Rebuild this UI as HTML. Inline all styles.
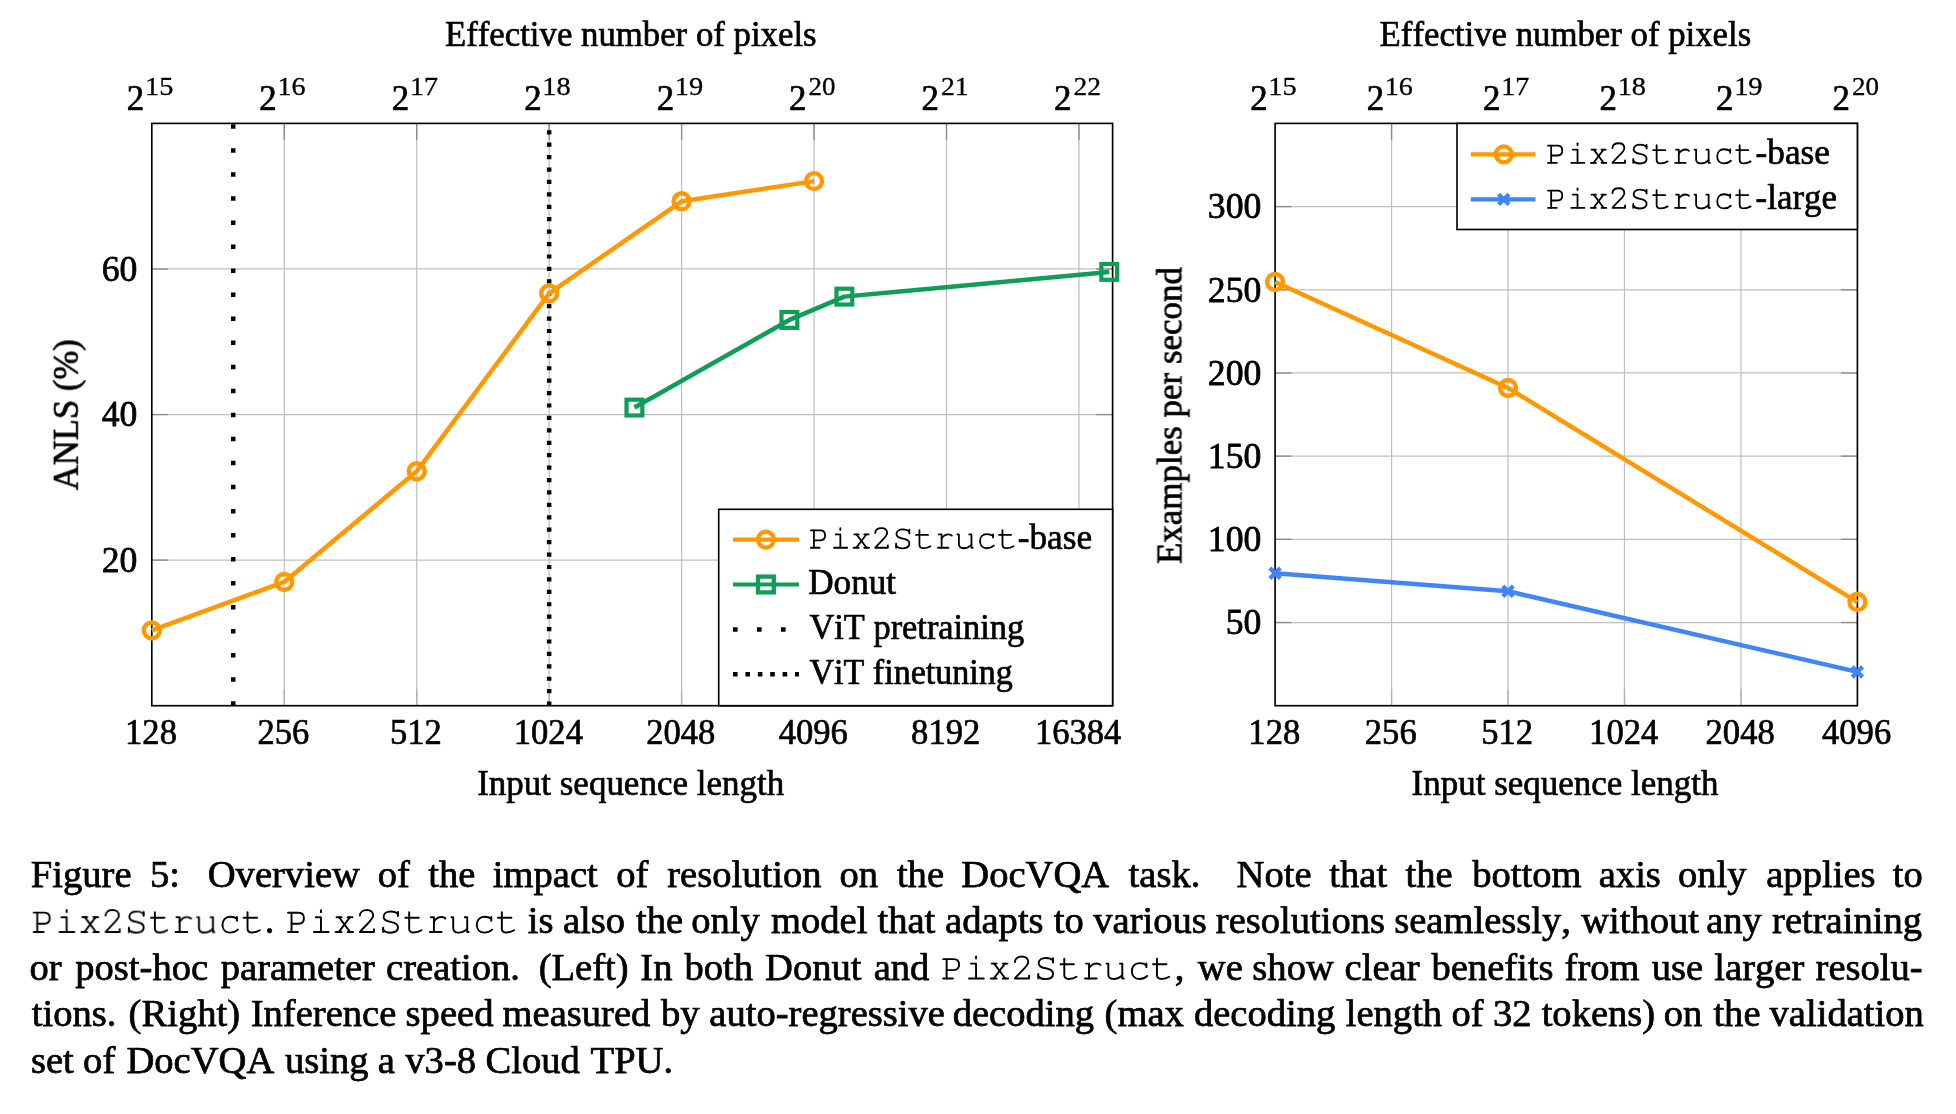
<!DOCTYPE html>
<html><head><meta charset="utf-8"><style>
html,body{margin:0;padding:0;background:#fff;}
body{width:1956px;height:1114px;position:relative;overflow:hidden;}
.ln{position:absolute;left:31.5px;width:1891px;font-family:"Liberation Serif",serif;font-size:38.6px;line-height:46px;height:46px;white-space:nowrap;text-align:justify;text-align-last:justify;color:#000;}
.ln.last{text-align:left;text-align-last:left;}
.m{font-family:"Liberation Mono",monospace;}
</style></head><body>
<svg width="1956" height="1114" viewBox="0 0 1956 1114" style="position:absolute;left:0;top:0;will-change:transform">
<rect width="1956" height="1114" fill="#fff"/><g opacity="0.999">
<line x1="284.25" y1="123.4" x2="284.25" y2="705.7" stroke="#bfbfbf" stroke-width="1.25"/>
<line x1="416.70" y1="123.4" x2="416.70" y2="705.7" stroke="#bfbfbf" stroke-width="1.25"/>
<line x1="549.15" y1="123.4" x2="549.15" y2="705.7" stroke="#bfbfbf" stroke-width="1.25"/>
<line x1="681.60" y1="123.4" x2="681.60" y2="705.7" stroke="#bfbfbf" stroke-width="1.25"/>
<line x1="814.05" y1="123.4" x2="814.05" y2="705.7" stroke="#bfbfbf" stroke-width="1.25"/>
<line x1="946.50" y1="123.4" x2="946.50" y2="705.7" stroke="#bfbfbf" stroke-width="1.25"/>
<line x1="1078.95" y1="123.4" x2="1078.95" y2="705.7" stroke="#bfbfbf" stroke-width="1.25"/>
<line x1="151.8" y1="560.12" x2="1112.6" y2="560.12" stroke="#bfbfbf" stroke-width="1.25"/>
<line x1="151.8" y1="414.55" x2="1112.6" y2="414.55" stroke="#bfbfbf" stroke-width="1.25"/>
<line x1="151.8" y1="268.97" x2="1112.6" y2="268.97" stroke="#bfbfbf" stroke-width="1.25"/>
<line x1="284.25" y1="123.4" x2="284.25" y2="139.8" stroke="#8a8a8a" stroke-width="1.35"/>
<line x1="284.25" y1="689.3000000000001" x2="284.25" y2="705.7" stroke="#b0b0b0" stroke-width="1.3"/>
<line x1="416.70" y1="123.4" x2="416.70" y2="139.8" stroke="#8a8a8a" stroke-width="1.35"/>
<line x1="416.70" y1="689.3000000000001" x2="416.70" y2="705.7" stroke="#b0b0b0" stroke-width="1.3"/>
<line x1="549.15" y1="123.4" x2="549.15" y2="139.8" stroke="#8a8a8a" stroke-width="1.35"/>
<line x1="549.15" y1="689.3000000000001" x2="549.15" y2="705.7" stroke="#b0b0b0" stroke-width="1.3"/>
<line x1="681.60" y1="123.4" x2="681.60" y2="139.8" stroke="#8a8a8a" stroke-width="1.35"/>
<line x1="681.60" y1="689.3000000000001" x2="681.60" y2="705.7" stroke="#b0b0b0" stroke-width="1.3"/>
<line x1="814.05" y1="123.4" x2="814.05" y2="139.8" stroke="#8a8a8a" stroke-width="1.35"/>
<line x1="814.05" y1="689.3000000000001" x2="814.05" y2="705.7" stroke="#b0b0b0" stroke-width="1.3"/>
<line x1="946.50" y1="123.4" x2="946.50" y2="139.8" stroke="#8a8a8a" stroke-width="1.35"/>
<line x1="946.50" y1="689.3000000000001" x2="946.50" y2="705.7" stroke="#b0b0b0" stroke-width="1.3"/>
<line x1="1078.95" y1="123.4" x2="1078.95" y2="139.8" stroke="#8a8a8a" stroke-width="1.35"/>
<line x1="1078.95" y1="689.3000000000001" x2="1078.95" y2="705.7" stroke="#b0b0b0" stroke-width="1.3"/>
<line x1="151.8" y1="560.12" x2="168.20000000000002" y2="560.12" stroke="#8a8a8a" stroke-width="1.35"/>
<line x1="1096.1999999999998" y1="560.12" x2="1112.6" y2="560.12" stroke="#8a8a8a" stroke-width="1.35"/>
<line x1="151.8" y1="414.55" x2="168.20000000000002" y2="414.55" stroke="#8a8a8a" stroke-width="1.35"/>
<line x1="1096.1999999999998" y1="414.55" x2="1112.6" y2="414.55" stroke="#8a8a8a" stroke-width="1.35"/>
<line x1="151.8" y1="268.97" x2="168.20000000000002" y2="268.97" stroke="#8a8a8a" stroke-width="1.35"/>
<line x1="1096.1999999999998" y1="268.97" x2="1112.6" y2="268.97" stroke="#8a8a8a" stroke-width="1.35"/>
<rect x="151.8" y="123.4" width="960.80" height="582.30" fill="none" stroke="#000" stroke-width="1.65"/>
<line x1="233.22" y1="705.7" x2="233.22" y2="123.4" stroke="#000" stroke-width="4.5" stroke-dasharray="4.5 19.54"/>
<line x1="549.15" y1="705.7" x2="549.15" y2="123.4" stroke="#000" stroke-width="4.5" stroke-dasharray="4.2 8.22"/>
<path d="M151.80,630.36 L284.25,581.96 L416.70,471.32 L549.15,293.36 L681.60,201.28 L814.05,181.12" fill="none" stroke="#FF9800" stroke-width="4.5" stroke-linejoin="round"/>
<circle cx="151.80" cy="630.36" r="8.0" fill="none" stroke="#FF9800" stroke-width="4.4"/>
<circle cx="284.25" cy="581.96" r="8.0" fill="none" stroke="#FF9800" stroke-width="4.4"/>
<circle cx="416.70" cy="471.32" r="8.0" fill="none" stroke="#FF9800" stroke-width="4.4"/>
<circle cx="549.15" cy="293.36" r="8.0" fill="none" stroke="#FF9800" stroke-width="4.4"/>
<circle cx="681.60" cy="201.28" r="8.0" fill="none" stroke="#FF9800" stroke-width="4.4"/>
<circle cx="814.05" cy="181.12" r="8.0" fill="none" stroke="#FF9800" stroke-width="4.4"/>
<path d="M634.43,407.56 L789.39,319.93 L844.36,296.63 L1109.26,271.89" fill="none" stroke="#0F9D58" stroke-width="4.5" stroke-linejoin="round"/>
<rect x="626.53" y="399.66" width="15.8" height="15.8" fill="none" stroke="#0F9D58" stroke-width="4.2"/>
<rect x="781.49" y="312.03" width="15.8" height="15.8" fill="none" stroke="#0F9D58" stroke-width="4.2"/>
<rect x="836.46" y="288.73" width="15.8" height="15.8" fill="none" stroke="#0F9D58" stroke-width="4.2"/>
<rect x="1101.36" y="263.99" width="15.8" height="15.8" fill="none" stroke="#0F9D58" stroke-width="4.2"/>
<rect x="718.7" y="509.3" width="393.90" height="196.40" fill="#fff" stroke="#000" stroke-width="1.65"/>
<line x1="733" y1="539.6" x2="799" y2="539.6" stroke="#FF9800" stroke-width="4.2"/>
<circle cx="765.90" cy="539.60" r="8.0" fill="none" stroke="#FF9800" stroke-width="4.3"/>
<line x1="733" y1="584.5" x2="799" y2="584.5" stroke="#0F9D58" stroke-width="4.2"/>
<rect x="758.00" y="576.60" width="15.8" height="15.8" fill="none" stroke="#0F9D58" stroke-width="4.3"/>
<line x1="733" y1="629.5" x2="799" y2="629.5" stroke="#000" stroke-width="4.6" stroke-dasharray="4.6 19.4"/>
<line x1="733" y1="674.2" x2="799" y2="674.2" stroke="#000" stroke-width="4.6" stroke-dasharray="4.6 7.8"/>
<g transform="translate(809.20,548.60) scale(0.03460,-0.03460)" fill="none" stroke="#000" stroke-width="52" stroke-linecap="round" stroke-linejoin="round"><path transform="translate(0,0)" d="M47,526 L322,526 C410,526 459,472 459,384 C459,296 410,240 322,240 L138,240"/><path transform="translate(0,0)" d="M138,526 L138,24"/><path transform="translate(0,0)" d="M47,24 L301,24"/><path transform="translate(600,0)" d="M165,409 L300,409 L300,24"/><path transform="translate(600,0)" d="M117,24 L499,24"/><path transform="translate(600,0)" d="M300,540 L300,592"/><path transform="translate(1200,0)" d="M105,409 L232,409"/><path transform="translate(1200,0)" d="M392,409 L516,409"/><path transform="translate(1200,0)" d="M82,24 L232,24"/><path transform="translate(1200,0)" d="M392,24 L532,24"/><path transform="translate(1200,0)" d="M170,409 L458,24"/><path transform="translate(1200,0)" d="M450,409 L160,24"/><path transform="translate(1800,0)" d="M108,452 C112,548 196,594 290,594 C388,594 452,536 452,452 C452,352 350,300 110,30 L110,24 L474,24 L474,96"/><path transform="translate(2400,0)" d="M494,548 L494,440"/><path transform="translate(2400,0)" d="M494,488 C458,532 392,556 306,556 C196,556 122,500 122,420 C122,330 208,304 304,288 C424,268 496,232 496,146 C496,60 420,8 300,8 C206,8 146,36 112,84"/><path transform="translate(2400,0)" d="M112,24 L112,140"/><path transform="translate(3000,0)" d="M186,536 L186,112 C186,46 230,12 306,12 C388,12 450,36 504,70"/><path transform="translate(3000,0)" d="M86,394 L434,394"/><path transform="translate(3600,0)" d="M148,409 L227,409 L227,24"/><path transform="translate(3600,0)" d="M122,24 L424,24"/><path transform="translate(3600,0)" d="M227,292 C282,382 350,413 424,413 C470,413 502,398 522,376"/><path transform="translate(4200,0)" d="M81,409 L127,409 L127,132 C127,52 180,10 262,10 C350,10 430,48 489,108"/><path transform="translate(4200,0)" d="M426,409 L489,409 L489,24 L526,24"/><path transform="translate(4800,0)" d="M512,413 L512,318"/><path transform="translate(4800,0)" d="M512,368 C470,404 402,421 330,421 C212,421 137,332 137,214 C137,88 222,10 334,10 C414,10 482,40 534,88"/><path transform="translate(5400,0)" d="M186,536 L186,112 C186,46 230,12 306,12 C388,12 450,36 504,70"/><path transform="translate(5400,0)" d="M86,394 L434,394"/></g>
<text transform="translate(1017.79,548.80) scale(1.0182,1.0650)" font-size="34.6" fill="#000" stroke="#000" stroke-width="0.657" stroke-linejoin="round" style='font-family:"Liberation Serif",serif;font-kerning:none'>-base</text>
<text transform="translate(808.19,593.70) scale(1.0164,1.0650)" font-size="34.6" fill="#000" stroke="#000" stroke-width="0.657" stroke-linejoin="round" style='font-family:"Liberation Serif",serif;font-kerning:none'>Donut</text>
<text transform="translate(809.51,639.00) scale(0.9933,1.0650)" font-size="34.6" fill="#000" stroke="#000" stroke-width="0.657" stroke-linejoin="round" style='font-family:"Liberation Serif",serif;font-kerning:none'>ViT pretraining</text>
<text transform="translate(809.52,684.00) scale(0.9842,1.0650)" font-size="34.6" fill="#000" stroke="#000" stroke-width="0.657" stroke-linejoin="round" style='font-family:"Liberation Serif",serif;font-kerning:none'>ViT finetuning</text>
<text transform="translate(444.95,46.20) scale(1.0051,1.0650)" font-size="34.6" fill="#000" stroke="#000" stroke-width="0.657" stroke-linejoin="round" style='font-family:"Liberation Serif",serif;font-kerning:none'>Effective number of pixels</text>
<text transform="translate(477.14,794.90) scale(1.0116,1.0650)" font-size="34.6" fill="#000" stroke="#000" stroke-width="0.657" stroke-linejoin="round" style='font-family:"Liberation Serif",serif;font-kerning:none'>Input sequence length</text>
<text transform="translate(77.9,490.34) rotate(-90) scale(1.0019,1.065)" font-size="34.6" stroke="#000" stroke-width="0.7" stroke-linejoin="round" style='font-family:"Liberation Serif",serif;font-kerning:none'>ANLS (%)</text>
<text transform="translate(125.05,744.00) scale(1.0000,1.0650)" font-size="34.6" fill="#000" stroke="#000" stroke-width="0.657" stroke-linejoin="round" style='font-family:"Liberation Serif",serif;font-kerning:none'>128</text>
<text transform="translate(257.50,744.00) scale(1.0000,1.0650)" font-size="34.6" fill="#000" stroke="#000" stroke-width="0.657" stroke-linejoin="round" style='font-family:"Liberation Serif",serif;font-kerning:none'>256</text>
<text transform="translate(389.95,744.00) scale(1.0000,1.0650)" font-size="34.6" fill="#000" stroke="#000" stroke-width="0.657" stroke-linejoin="round" style='font-family:"Liberation Serif",serif;font-kerning:none'>512</text>
<text transform="translate(513.75,744.00) scale(1.0000,1.0650)" font-size="34.6" fill="#000" stroke="#000" stroke-width="0.657" stroke-linejoin="round" style='font-family:"Liberation Serif",serif;font-kerning:none'>1024</text>
<text transform="translate(646.20,744.00) scale(1.0000,1.0650)" font-size="34.6" fill="#000" stroke="#000" stroke-width="0.657" stroke-linejoin="round" style='font-family:"Liberation Serif",serif;font-kerning:none'>2048</text>
<text transform="translate(778.65,744.00) scale(1.0000,1.0650)" font-size="34.6" fill="#000" stroke="#000" stroke-width="0.657" stroke-linejoin="round" style='font-family:"Liberation Serif",serif;font-kerning:none'>4096</text>
<text transform="translate(911.10,744.00) scale(1.0000,1.0650)" font-size="34.6" fill="#000" stroke="#000" stroke-width="0.657" stroke-linejoin="round" style='font-family:"Liberation Serif",serif;font-kerning:none'>8192</text>
<text transform="translate(1034.90,744.00) scale(1.0000,1.0650)" font-size="34.6" fill="#000" stroke="#000" stroke-width="0.657" stroke-linejoin="round" style='font-family:"Liberation Serif",serif;font-kerning:none'>16384</text>
<text transform="translate(126.87,110.00) scale(0.9800,1.0000)" font-size="35.6" fill="#000" stroke="#000" stroke-width="0.750" stroke-linejoin="round" style='font-family:"Liberation Serif",serif;font-kerning:none'>2</text>
<text transform="translate(145.00,95.20) scale(1.1272,1.0000)" font-size="25.2" fill="#000" stroke="#000" stroke-width="0.310" stroke-linejoin="round" style='font-family:"Liberation Serif",serif;font-kerning:none'>15</text>
<text transform="translate(259.32,110.00) scale(0.9800,1.0000)" font-size="35.6" fill="#000" stroke="#000" stroke-width="0.750" stroke-linejoin="round" style='font-family:"Liberation Serif",serif;font-kerning:none'>2</text>
<text transform="translate(277.48,95.20) scale(1.1154,1.0000)" font-size="25.2" fill="#000" stroke="#000" stroke-width="0.314" stroke-linejoin="round" style='font-family:"Liberation Serif",serif;font-kerning:none'>16</text>
<text transform="translate(391.77,110.00) scale(0.9800,1.0000)" font-size="35.6" fill="#000" stroke="#000" stroke-width="0.750" stroke-linejoin="round" style='font-family:"Liberation Serif",serif;font-kerning:none'>2</text>
<text transform="translate(409.93,95.20) scale(1.1141,1.0000)" font-size="25.2" fill="#000" stroke="#000" stroke-width="0.314" stroke-linejoin="round" style='font-family:"Liberation Serif",serif;font-kerning:none'>17</text>
<text transform="translate(524.22,110.00) scale(0.9800,1.0000)" font-size="35.6" fill="#000" stroke="#000" stroke-width="0.750" stroke-linejoin="round" style='font-family:"Liberation Serif",serif;font-kerning:none'>2</text>
<text transform="translate(542.36,95.20) scale(1.1260,1.0000)" font-size="25.2" fill="#000" stroke="#000" stroke-width="0.311" stroke-linejoin="round" style='font-family:"Liberation Serif",serif;font-kerning:none'>18</text>
<text transform="translate(656.67,110.00) scale(0.9800,1.0000)" font-size="35.6" fill="#000" stroke="#000" stroke-width="0.750" stroke-linejoin="round" style='font-family:"Liberation Serif",serif;font-kerning:none'>2</text>
<text transform="translate(674.80,95.20) scale(1.1298,1.0000)" font-size="25.2" fill="#000" stroke="#000" stroke-width="0.310" stroke-linejoin="round" style='font-family:"Liberation Serif",serif;font-kerning:none'>19</text>
<text transform="translate(789.12,110.00) scale(0.9800,1.0000)" font-size="35.6" fill="#000" stroke="#000" stroke-width="0.750" stroke-linejoin="round" style='font-family:"Liberation Serif",serif;font-kerning:none'>2</text>
<text transform="translate(808.56,95.20) scale(1.0721,1.0000)" font-size="25.2" fill="#000" stroke="#000" stroke-width="0.326" stroke-linejoin="round" style='font-family:"Liberation Serif",serif;font-kerning:none'>20</text>
<text transform="translate(921.57,110.00) scale(0.9800,1.0000)" font-size="35.6" fill="#000" stroke="#000" stroke-width="0.750" stroke-linejoin="round" style='font-family:"Liberation Serif",serif;font-kerning:none'>2</text>
<text transform="translate(940.98,95.20) scale(1.0984,1.0000)" font-size="25.2" fill="#000" stroke="#000" stroke-width="0.319" stroke-linejoin="round" style='font-family:"Liberation Serif",serif;font-kerning:none'>21</text>
<text transform="translate(1054.02,110.00) scale(0.9800,1.0000)" font-size="35.6" fill="#000" stroke="#000" stroke-width="0.750" stroke-linejoin="round" style='font-family:"Liberation Serif",serif;font-kerning:none'>2</text>
<text transform="translate(1073.44,95.20) scale(1.0924,1.0000)" font-size="25.2" fill="#000" stroke="#000" stroke-width="0.320" stroke-linejoin="round" style='font-family:"Liberation Serif",serif;font-kerning:none'>22</text>
<text transform="translate(101.77,572.02) scale(0.9750,1.0000)" font-size="36.6" fill="#000" stroke="#000" stroke-width="0.750" stroke-linejoin="round" style='font-family:"Liberation Serif",serif;font-kerning:none'>20</text>
<text transform="translate(101.77,426.45) scale(0.9750,1.0000)" font-size="36.6" fill="#000" stroke="#000" stroke-width="0.750" stroke-linejoin="round" style='font-family:"Liberation Serif",serif;font-kerning:none'>40</text>
<text transform="translate(101.77,280.87) scale(0.9750,1.0000)" font-size="36.6" fill="#000" stroke="#000" stroke-width="0.750" stroke-linejoin="round" style='font-family:"Liberation Serif",serif;font-kerning:none'>60</text>
<line x1="1391.56" y1="123.4" x2="1391.56" y2="705.7" stroke="#bfbfbf" stroke-width="1.25"/>
<line x1="1508.02" y1="123.4" x2="1508.02" y2="705.7" stroke="#bfbfbf" stroke-width="1.25"/>
<line x1="1624.48" y1="123.4" x2="1624.48" y2="705.7" stroke="#bfbfbf" stroke-width="1.25"/>
<line x1="1740.94" y1="123.4" x2="1740.94" y2="705.7" stroke="#bfbfbf" stroke-width="1.25"/>
<line x1="1275.1" y1="622.51" x2="1857.4" y2="622.51" stroke="#bfbfbf" stroke-width="1.25"/>
<line x1="1275.1" y1="539.33" x2="1857.4" y2="539.33" stroke="#bfbfbf" stroke-width="1.25"/>
<line x1="1275.1" y1="456.14" x2="1857.4" y2="456.14" stroke="#bfbfbf" stroke-width="1.25"/>
<line x1="1275.1" y1="372.96" x2="1857.4" y2="372.96" stroke="#bfbfbf" stroke-width="1.25"/>
<line x1="1275.1" y1="289.77" x2="1857.4" y2="289.77" stroke="#bfbfbf" stroke-width="1.25"/>
<line x1="1275.1" y1="206.59" x2="1857.4" y2="206.59" stroke="#bfbfbf" stroke-width="1.25"/>
<line x1="1391.56" y1="123.4" x2="1391.56" y2="139.8" stroke="#8a8a8a" stroke-width="1.35"/>
<line x1="1391.56" y1="689.3000000000001" x2="1391.56" y2="705.7" stroke="#b0b0b0" stroke-width="1.3"/>
<line x1="1508.02" y1="123.4" x2="1508.02" y2="139.8" stroke="#8a8a8a" stroke-width="1.35"/>
<line x1="1508.02" y1="689.3000000000001" x2="1508.02" y2="705.7" stroke="#b0b0b0" stroke-width="1.3"/>
<line x1="1624.48" y1="123.4" x2="1624.48" y2="139.8" stroke="#8a8a8a" stroke-width="1.35"/>
<line x1="1624.48" y1="689.3000000000001" x2="1624.48" y2="705.7" stroke="#b0b0b0" stroke-width="1.3"/>
<line x1="1740.94" y1="123.4" x2="1740.94" y2="139.8" stroke="#8a8a8a" stroke-width="1.35"/>
<line x1="1740.94" y1="689.3000000000001" x2="1740.94" y2="705.7" stroke="#b0b0b0" stroke-width="1.3"/>
<line x1="1275.1" y1="622.51" x2="1291.5" y2="622.51" stroke="#8a8a8a" stroke-width="1.35"/>
<line x1="1841.0" y1="622.51" x2="1857.4" y2="622.51" stroke="#8a8a8a" stroke-width="1.35"/>
<line x1="1275.1" y1="539.33" x2="1291.5" y2="539.33" stroke="#8a8a8a" stroke-width="1.35"/>
<line x1="1841.0" y1="539.33" x2="1857.4" y2="539.33" stroke="#8a8a8a" stroke-width="1.35"/>
<line x1="1275.1" y1="456.14" x2="1291.5" y2="456.14" stroke="#8a8a8a" stroke-width="1.35"/>
<line x1="1841.0" y1="456.14" x2="1857.4" y2="456.14" stroke="#8a8a8a" stroke-width="1.35"/>
<line x1="1275.1" y1="372.96" x2="1291.5" y2="372.96" stroke="#8a8a8a" stroke-width="1.35"/>
<line x1="1841.0" y1="372.96" x2="1857.4" y2="372.96" stroke="#8a8a8a" stroke-width="1.35"/>
<line x1="1275.1" y1="289.77" x2="1291.5" y2="289.77" stroke="#8a8a8a" stroke-width="1.35"/>
<line x1="1841.0" y1="289.77" x2="1857.4" y2="289.77" stroke="#8a8a8a" stroke-width="1.35"/>
<line x1="1275.1" y1="206.59" x2="1291.5" y2="206.59" stroke="#8a8a8a" stroke-width="1.35"/>
<line x1="1841.0" y1="206.59" x2="1857.4" y2="206.59" stroke="#8a8a8a" stroke-width="1.35"/>
<rect x="1275.1" y="123.4" width="582.30" height="582.30" fill="none" stroke="#000" stroke-width="1.65"/>
<path d="M1275.10,281.95 L1508.02,387.93 L1857.40,602.05" fill="none" stroke="#FF9800" stroke-width="4.5" stroke-linejoin="round"/>
<circle cx="1275.10" cy="281.95" r="8.0" fill="none" stroke="#FF9800" stroke-width="4.4"/>
<circle cx="1508.02" cy="387.93" r="8.0" fill="none" stroke="#FF9800" stroke-width="4.4"/>
<circle cx="1857.40" cy="602.05" r="8.0" fill="none" stroke="#FF9800" stroke-width="4.4"/>
<path d="M1275.10,573.27 L1508.02,591.24 L1857.40,671.93" fill="none" stroke="#4285F4" stroke-width="4.5" stroke-linejoin="round"/>
<path d="M1269.90,568.07L1280.30,578.47M1269.90,578.47L1280.30,568.07" stroke="#4285F4" stroke-width="4.3" fill="none"/>
<path d="M1502.82,586.04L1513.22,596.44M1502.82,596.44L1513.22,586.04" stroke="#4285F4" stroke-width="4.3" fill="none"/>
<path d="M1852.20,666.73L1862.60,677.13M1852.20,677.13L1862.60,666.73" stroke="#4285F4" stroke-width="4.3" fill="none"/>
<rect x="1457" y="123.4" width="400.40" height="106.10" fill="#fff" stroke="#000" stroke-width="1.65"/>
<line x1="1470.8" y1="154.4" x2="1535.5" y2="154.4" stroke="#FF9800" stroke-width="4.2"/>
<circle cx="1503.80" cy="154.40" r="8.0" fill="none" stroke="#FF9800" stroke-width="4.3"/>
<line x1="1470.8" y1="199.4" x2="1535.5" y2="199.4" stroke="#4285F4" stroke-width="4.2"/>
<path d="M1498.60,194.20L1509.00,204.60M1498.60,204.60L1509.00,194.20" stroke="#4285F4" stroke-width="4.3" fill="none"/>
<g transform="translate(1546.40,163.80) scale(0.03460,-0.03460)" fill="none" stroke="#000" stroke-width="52" stroke-linecap="round" stroke-linejoin="round"><path transform="translate(0,0)" d="M47,526 L322,526 C410,526 459,472 459,384 C459,296 410,240 322,240 L138,240"/><path transform="translate(0,0)" d="M138,526 L138,24"/><path transform="translate(0,0)" d="M47,24 L301,24"/><path transform="translate(600,0)" d="M165,409 L300,409 L300,24"/><path transform="translate(600,0)" d="M117,24 L499,24"/><path transform="translate(600,0)" d="M300,540 L300,592"/><path transform="translate(1200,0)" d="M105,409 L232,409"/><path transform="translate(1200,0)" d="M392,409 L516,409"/><path transform="translate(1200,0)" d="M82,24 L232,24"/><path transform="translate(1200,0)" d="M392,24 L532,24"/><path transform="translate(1200,0)" d="M170,409 L458,24"/><path transform="translate(1200,0)" d="M450,409 L160,24"/><path transform="translate(1800,0)" d="M108,452 C112,548 196,594 290,594 C388,594 452,536 452,452 C452,352 350,300 110,30 L110,24 L474,24 L474,96"/><path transform="translate(2400,0)" d="M494,548 L494,440"/><path transform="translate(2400,0)" d="M494,488 C458,532 392,556 306,556 C196,556 122,500 122,420 C122,330 208,304 304,288 C424,268 496,232 496,146 C496,60 420,8 300,8 C206,8 146,36 112,84"/><path transform="translate(2400,0)" d="M112,24 L112,140"/><path transform="translate(3000,0)" d="M186,536 L186,112 C186,46 230,12 306,12 C388,12 450,36 504,70"/><path transform="translate(3000,0)" d="M86,394 L434,394"/><path transform="translate(3600,0)" d="M148,409 L227,409 L227,24"/><path transform="translate(3600,0)" d="M122,24 L424,24"/><path transform="translate(3600,0)" d="M227,292 C282,382 350,413 424,413 C470,413 502,398 522,376"/><path transform="translate(4200,0)" d="M81,409 L127,409 L127,132 C127,52 180,10 262,10 C350,10 430,48 489,108"/><path transform="translate(4200,0)" d="M426,409 L489,409 L489,24 L526,24"/><path transform="translate(4800,0)" d="M512,413 L512,318"/><path transform="translate(4800,0)" d="M512,368 C470,404 402,421 330,421 C212,421 137,332 137,214 C137,88 222,10 334,10 C414,10 482,40 534,88"/><path transform="translate(5400,0)" d="M186,536 L186,112 C186,46 230,12 306,12 C388,12 450,36 504,70"/><path transform="translate(5400,0)" d="M86,394 L434,394"/></g>
<text transform="translate(1755.59,163.80) scale(1.0182,1.0650)" font-size="34.6" fill="#000" stroke="#000" stroke-width="0.657" stroke-linejoin="round" style='font-family:"Liberation Serif",serif;font-kerning:none'>-base</text>
<g transform="translate(1546.40,208.80) scale(0.03460,-0.03460)" fill="none" stroke="#000" stroke-width="52" stroke-linecap="round" stroke-linejoin="round"><path transform="translate(0,0)" d="M47,526 L322,526 C410,526 459,472 459,384 C459,296 410,240 322,240 L138,240"/><path transform="translate(0,0)" d="M138,526 L138,24"/><path transform="translate(0,0)" d="M47,24 L301,24"/><path transform="translate(600,0)" d="M165,409 L300,409 L300,24"/><path transform="translate(600,0)" d="M117,24 L499,24"/><path transform="translate(600,0)" d="M300,540 L300,592"/><path transform="translate(1200,0)" d="M105,409 L232,409"/><path transform="translate(1200,0)" d="M392,409 L516,409"/><path transform="translate(1200,0)" d="M82,24 L232,24"/><path transform="translate(1200,0)" d="M392,24 L532,24"/><path transform="translate(1200,0)" d="M170,409 L458,24"/><path transform="translate(1200,0)" d="M450,409 L160,24"/><path transform="translate(1800,0)" d="M108,452 C112,548 196,594 290,594 C388,594 452,536 452,452 C452,352 350,300 110,30 L110,24 L474,24 L474,96"/><path transform="translate(2400,0)" d="M494,548 L494,440"/><path transform="translate(2400,0)" d="M494,488 C458,532 392,556 306,556 C196,556 122,500 122,420 C122,330 208,304 304,288 C424,268 496,232 496,146 C496,60 420,8 300,8 C206,8 146,36 112,84"/><path transform="translate(2400,0)" d="M112,24 L112,140"/><path transform="translate(3000,0)" d="M186,536 L186,112 C186,46 230,12 306,12 C388,12 450,36 504,70"/><path transform="translate(3000,0)" d="M86,394 L434,394"/><path transform="translate(3600,0)" d="M148,409 L227,409 L227,24"/><path transform="translate(3600,0)" d="M122,24 L424,24"/><path transform="translate(3600,0)" d="M227,292 C282,382 350,413 424,413 C470,413 502,398 522,376"/><path transform="translate(4200,0)" d="M81,409 L127,409 L127,132 C127,52 180,10 262,10 C350,10 430,48 489,108"/><path transform="translate(4200,0)" d="M426,409 L489,409 L489,24 L526,24"/><path transform="translate(4800,0)" d="M512,413 L512,318"/><path transform="translate(4800,0)" d="M512,368 C470,404 402,421 330,421 C212,421 137,332 137,214 C137,88 222,10 334,10 C414,10 482,40 534,88"/><path transform="translate(5400,0)" d="M186,536 L186,112 C186,46 230,12 306,12 C388,12 450,36 504,70"/><path transform="translate(5400,0)" d="M86,394 L434,394"/></g>
<text transform="translate(1755.60,208.80) scale(1.0091,1.0650)" font-size="34.6" fill="#000" stroke="#000" stroke-width="0.657" stroke-linejoin="round" style='font-family:"Liberation Serif",serif;font-kerning:none'>-large</text>
<text transform="translate(1379.60,46.20) scale(1.0051,1.0650)" font-size="34.6" fill="#000" stroke="#000" stroke-width="0.657" stroke-linejoin="round" style='font-family:"Liberation Serif",serif;font-kerning:none'>Effective number of pixels</text>
<text transform="translate(1411.54,794.60) scale(1.0116,1.0650)" font-size="34.6" fill="#000" stroke="#000" stroke-width="0.657" stroke-linejoin="round" style='font-family:"Liberation Serif",serif;font-kerning:none'>Input sequence length</text>
<text transform="translate(1181.6,564.01) rotate(-90) scale(1.0107,1.065)" font-size="34.6" stroke="#000" stroke-width="0.7" stroke-linejoin="round" style='font-family:"Liberation Serif",serif;font-kerning:none'>Examples per second</text>
<text transform="translate(1248.35,744.00) scale(1.0000,1.0650)" font-size="34.6" fill="#000" stroke="#000" stroke-width="0.657" stroke-linejoin="round" style='font-family:"Liberation Serif",serif;font-kerning:none'>128</text>
<text transform="translate(1364.81,744.00) scale(1.0000,1.0650)" font-size="34.6" fill="#000" stroke="#000" stroke-width="0.657" stroke-linejoin="round" style='font-family:"Liberation Serif",serif;font-kerning:none'>256</text>
<text transform="translate(1481.27,744.00) scale(1.0000,1.0650)" font-size="34.6" fill="#000" stroke="#000" stroke-width="0.657" stroke-linejoin="round" style='font-family:"Liberation Serif",serif;font-kerning:none'>512</text>
<text transform="translate(1589.08,744.00) scale(1.0000,1.0650)" font-size="34.6" fill="#000" stroke="#000" stroke-width="0.657" stroke-linejoin="round" style='font-family:"Liberation Serif",serif;font-kerning:none'>1024</text>
<text transform="translate(1705.54,744.00) scale(1.0000,1.0650)" font-size="34.6" fill="#000" stroke="#000" stroke-width="0.657" stroke-linejoin="round" style='font-family:"Liberation Serif",serif;font-kerning:none'>2048</text>
<text transform="translate(1822.00,744.00) scale(1.0000,1.0650)" font-size="34.6" fill="#000" stroke="#000" stroke-width="0.657" stroke-linejoin="round" style='font-family:"Liberation Serif",serif;font-kerning:none'>4096</text>
<text transform="translate(1250.17,110.00) scale(0.9800,1.0000)" font-size="35.6" fill="#000" stroke="#000" stroke-width="0.750" stroke-linejoin="round" style='font-family:"Liberation Serif",serif;font-kerning:none'>2</text>
<text transform="translate(1268.30,95.20) scale(1.1272,1.0000)" font-size="25.2" fill="#000" stroke="#000" stroke-width="0.310" stroke-linejoin="round" style='font-family:"Liberation Serif",serif;font-kerning:none'>15</text>
<text transform="translate(1366.63,110.00) scale(0.9800,1.0000)" font-size="35.6" fill="#000" stroke="#000" stroke-width="0.750" stroke-linejoin="round" style='font-family:"Liberation Serif",serif;font-kerning:none'>2</text>
<text transform="translate(1384.79,95.20) scale(1.1154,1.0000)" font-size="25.2" fill="#000" stroke="#000" stroke-width="0.314" stroke-linejoin="round" style='font-family:"Liberation Serif",serif;font-kerning:none'>16</text>
<text transform="translate(1483.09,110.00) scale(0.9800,1.0000)" font-size="35.6" fill="#000" stroke="#000" stroke-width="0.750" stroke-linejoin="round" style='font-family:"Liberation Serif",serif;font-kerning:none'>2</text>
<text transform="translate(1501.25,95.20) scale(1.1141,1.0000)" font-size="25.2" fill="#000" stroke="#000" stroke-width="0.314" stroke-linejoin="round" style='font-family:"Liberation Serif",serif;font-kerning:none'>17</text>
<text transform="translate(1599.55,110.00) scale(0.9800,1.0000)" font-size="35.6" fill="#000" stroke="#000" stroke-width="0.750" stroke-linejoin="round" style='font-family:"Liberation Serif",serif;font-kerning:none'>2</text>
<text transform="translate(1617.69,95.20) scale(1.1260,1.0000)" font-size="25.2" fill="#000" stroke="#000" stroke-width="0.311" stroke-linejoin="round" style='font-family:"Liberation Serif",serif;font-kerning:none'>18</text>
<text transform="translate(1716.01,110.00) scale(0.9800,1.0000)" font-size="35.6" fill="#000" stroke="#000" stroke-width="0.750" stroke-linejoin="round" style='font-family:"Liberation Serif",serif;font-kerning:none'>2</text>
<text transform="translate(1734.14,95.20) scale(1.1298,1.0000)" font-size="25.2" fill="#000" stroke="#000" stroke-width="0.310" stroke-linejoin="round" style='font-family:"Liberation Serif",serif;font-kerning:none'>19</text>
<text transform="translate(1832.47,110.00) scale(0.9800,1.0000)" font-size="35.6" fill="#000" stroke="#000" stroke-width="0.750" stroke-linejoin="round" style='font-family:"Liberation Serif",serif;font-kerning:none'>2</text>
<text transform="translate(1851.91,95.20) scale(1.0721,1.0000)" font-size="25.2" fill="#000" stroke="#000" stroke-width="0.326" stroke-linejoin="round" style='font-family:"Liberation Serif",serif;font-kerning:none'>20</text>
<text transform="translate(1225.67,634.41) scale(0.9750,1.0000)" font-size="36.6" fill="#000" stroke="#000" stroke-width="0.750" stroke-linejoin="round" style='font-family:"Liberation Serif",serif;font-kerning:none'>50</text>
<text transform="translate(1207.83,551.23) scale(0.9750,1.0000)" font-size="36.6" fill="#000" stroke="#000" stroke-width="0.750" stroke-linejoin="round" style='font-family:"Liberation Serif",serif;font-kerning:none'>100</text>
<text transform="translate(1207.83,468.04) scale(0.9750,1.0000)" font-size="36.6" fill="#000" stroke="#000" stroke-width="0.750" stroke-linejoin="round" style='font-family:"Liberation Serif",serif;font-kerning:none'>150</text>
<text transform="translate(1207.83,384.86) scale(0.9750,1.0000)" font-size="36.6" fill="#000" stroke="#000" stroke-width="0.750" stroke-linejoin="round" style='font-family:"Liberation Serif",serif;font-kerning:none'>200</text>
<text transform="translate(1207.83,301.67) scale(0.9750,1.0000)" font-size="36.6" fill="#000" stroke="#000" stroke-width="0.750" stroke-linejoin="round" style='font-family:"Liberation Serif",serif;font-kerning:none'>250</text>
<text transform="translate(1207.83,218.49) scale(0.9750,1.0000)" font-size="36.6" fill="#000" stroke="#000" stroke-width="0.750" stroke-linejoin="round" style='font-family:"Liberation Serif",serif;font-kerning:none'>300</text>
</g></svg>
<svg width="1956" height="1114" style="position:absolute;left:0;top:0;will-change:transform"><g opacity="0.999"><text transform="translate(30.82,886.90) scale(1.0000,1.0000)" font-size="38.6" fill="#000" stroke="#000" stroke-width="0.750" stroke-linejoin="round" style='font-family:"Liberation Serif",serif;font-kerning:none'>Figure</text>
<text transform="translate(149.88,886.90) scale(1.0000,1.0000)" font-size="38.6" fill="#000" stroke="#000" stroke-width="0.750" stroke-linejoin="round" style='font-family:"Liberation Serif",serif;font-kerning:none'>5:</text>
<text transform="translate(207.75,886.90) scale(1.0000,1.0000)" font-size="38.6" fill="#000" stroke="#000" stroke-width="0.750" stroke-linejoin="round" style='font-family:"Liberation Serif",serif;font-kerning:none'>Overview</text>
<text transform="translate(377.69,886.90) scale(1.0000,1.0000)" font-size="38.6" fill="#000" stroke="#000" stroke-width="0.750" stroke-linejoin="round" style='font-family:"Liberation Serif",serif;font-kerning:none'>of</text>
<text transform="translate(428.25,886.90) scale(1.0000,1.0000)" font-size="38.6" fill="#000" stroke="#000" stroke-width="0.750" stroke-linejoin="round" style='font-family:"Liberation Serif",serif;font-kerning:none'>the</text>
<text transform="translate(492.84,886.90) scale(1.0000,1.0000)" font-size="38.6" fill="#000" stroke="#000" stroke-width="0.750" stroke-linejoin="round" style='font-family:"Liberation Serif",serif;font-kerning:none'>impact</text>
<text transform="translate(616.14,886.90) scale(1.0000,1.0000)" font-size="38.6" fill="#000" stroke="#000" stroke-width="0.750" stroke-linejoin="round" style='font-family:"Liberation Serif",serif;font-kerning:none'>of</text>
<text transform="translate(667.22,886.90) scale(1.0000,1.0000)" font-size="38.6" fill="#000" stroke="#000" stroke-width="0.750" stroke-linejoin="round" style='font-family:"Liberation Serif",serif;font-kerning:none'>resolution</text>
<text transform="translate(839.41,886.90) scale(1.0000,1.0000)" font-size="38.6" fill="#000" stroke="#000" stroke-width="0.750" stroke-linejoin="round" style='font-family:"Liberation Serif",serif;font-kerning:none'>on</text>
<text transform="translate(896.90,886.90) scale(1.0000,1.0000)" font-size="38.6" fill="#000" stroke="#000" stroke-width="0.750" stroke-linejoin="round" style='font-family:"Liberation Serif",serif;font-kerning:none'>the</text>
<text transform="translate(961.27,886.90) scale(1.0000,1.0000)" font-size="38.6" fill="#000" stroke="#000" stroke-width="0.750" stroke-linejoin="round" style='font-family:"Liberation Serif",serif;font-kerning:none'>DocVQA</text>
<text transform="translate(1128.62,886.90) scale(1.0000,1.0000)" font-size="38.6" fill="#000" stroke="#000" stroke-width="0.750" stroke-linejoin="round" style='font-family:"Liberation Serif",serif;font-kerning:none'>task.</text>
<text transform="translate(1236.55,886.90) scale(1.0000,1.0000)" font-size="38.6" fill="#000" stroke="#000" stroke-width="0.750" stroke-linejoin="round" style='font-family:"Liberation Serif",serif;font-kerning:none'>Note</text>
<text transform="translate(1329.28,886.90) scale(1.0000,1.0000)" font-size="38.6" fill="#000" stroke="#000" stroke-width="0.750" stroke-linejoin="round" style='font-family:"Liberation Serif",serif;font-kerning:none'>that</text>
<text transform="translate(1405.50,886.90) scale(1.0000,1.0000)" font-size="38.6" fill="#000" stroke="#000" stroke-width="0.750" stroke-linejoin="round" style='font-family:"Liberation Serif",serif;font-kerning:none'>the</text>
<text transform="translate(1472.17,886.90) scale(1.0000,1.0000)" font-size="38.6" fill="#000" stroke="#000" stroke-width="0.750" stroke-linejoin="round" style='font-family:"Liberation Serif",serif;font-kerning:none'>bottom</text>
<text transform="translate(1598.73,886.90) scale(1.0000,1.0000)" font-size="38.6" fill="#000" stroke="#000" stroke-width="0.750" stroke-linejoin="round" style='font-family:"Liberation Serif",serif;font-kerning:none'>axis</text>
<text transform="translate(1677.88,886.90) scale(1.0000,1.0000)" font-size="38.6" fill="#000" stroke="#000" stroke-width="0.750" stroke-linejoin="round" style='font-family:"Liberation Serif",serif;font-kerning:none'>only</text>
<text transform="translate(1766.25,886.90) scale(1.0000,1.0000)" font-size="38.6" fill="#000" stroke="#000" stroke-width="0.750" stroke-linejoin="round" style='font-family:"Liberation Serif",serif;font-kerning:none'>applies</text>
<text transform="translate(1892.73,886.90) scale(1.0000,1.0000)" font-size="38.6" fill="#000" stroke="#000" stroke-width="0.750" stroke-linejoin="round" style='font-family:"Liberation Serif",serif;font-kerning:none'>to</text>
<g transform="translate(31.91,933.00) scale(0.03860,-0.03860)" fill="none" stroke="#000" stroke-width="50" stroke-linecap="round" stroke-linejoin="round"><path transform="translate(0,0)" d="M47,526 L322,526 C410,526 459,472 459,384 C459,296 410,240 322,240 L138,240"/><path transform="translate(0,0)" d="M138,526 L138,24"/><path transform="translate(0,0)" d="M47,24 L301,24"/><path transform="translate(600,0)" d="M165,409 L300,409 L300,24"/><path transform="translate(600,0)" d="M117,24 L499,24"/><path transform="translate(600,0)" d="M300,540 L300,592"/><path transform="translate(1200,0)" d="M105,409 L232,409"/><path transform="translate(1200,0)" d="M392,409 L516,409"/><path transform="translate(1200,0)" d="M82,24 L232,24"/><path transform="translate(1200,0)" d="M392,24 L532,24"/><path transform="translate(1200,0)" d="M170,409 L458,24"/><path transform="translate(1200,0)" d="M450,409 L160,24"/><path transform="translate(1800,0)" d="M108,452 C112,548 196,594 290,594 C388,594 452,536 452,452 C452,352 350,300 110,30 L110,24 L474,24 L474,96"/><path transform="translate(2400,0)" d="M494,548 L494,440"/><path transform="translate(2400,0)" d="M494,488 C458,532 392,556 306,556 C196,556 122,500 122,420 C122,330 208,304 304,288 C424,268 496,232 496,146 C496,60 420,8 300,8 C206,8 146,36 112,84"/><path transform="translate(2400,0)" d="M112,24 L112,140"/><path transform="translate(3000,0)" d="M186,536 L186,112 C186,46 230,12 306,12 C388,12 450,36 504,70"/><path transform="translate(3000,0)" d="M86,394 L434,394"/><path transform="translate(3600,0)" d="M148,409 L227,409 L227,24"/><path transform="translate(3600,0)" d="M122,24 L424,24"/><path transform="translate(3600,0)" d="M227,292 C282,382 350,413 424,413 C470,413 502,398 522,376"/><path transform="translate(4200,0)" d="M81,409 L127,409 L127,132 C127,52 180,10 262,10 C350,10 430,48 489,108"/><path transform="translate(4200,0)" d="M426,409 L489,409 L489,24 L526,24"/><path transform="translate(4800,0)" d="M512,413 L512,318"/><path transform="translate(4800,0)" d="M512,368 C470,404 402,421 330,421 C212,421 137,332 137,214 C137,88 222,10 334,10 C414,10 482,40 534,88"/><path transform="translate(5400,0)" d="M186,536 L186,112 C186,46 230,12 306,12 C388,12 450,36 504,70"/><path transform="translate(5400,0)" d="M86,394 L434,394"/></g>
<text transform="translate(264.69,933.30) scale(1.0000,1.0000)" font-size="38.6" fill="#000" stroke="#000" stroke-width="0.750" stroke-linejoin="round" style='font-family:"Liberation Serif",serif;font-kerning:none'>.</text>
<g transform="translate(286.21,933.00) scale(0.03860,-0.03860)" fill="none" stroke="#000" stroke-width="50" stroke-linecap="round" stroke-linejoin="round"><path transform="translate(0,0)" d="M47,526 L322,526 C410,526 459,472 459,384 C459,296 410,240 322,240 L138,240"/><path transform="translate(0,0)" d="M138,526 L138,24"/><path transform="translate(0,0)" d="M47,24 L301,24"/><path transform="translate(600,0)" d="M165,409 L300,409 L300,24"/><path transform="translate(600,0)" d="M117,24 L499,24"/><path transform="translate(600,0)" d="M300,540 L300,592"/><path transform="translate(1200,0)" d="M105,409 L232,409"/><path transform="translate(1200,0)" d="M392,409 L516,409"/><path transform="translate(1200,0)" d="M82,24 L232,24"/><path transform="translate(1200,0)" d="M392,24 L532,24"/><path transform="translate(1200,0)" d="M170,409 L458,24"/><path transform="translate(1200,0)" d="M450,409 L160,24"/><path transform="translate(1800,0)" d="M108,452 C112,548 196,594 290,594 C388,594 452,536 452,452 C452,352 350,300 110,30 L110,24 L474,24 L474,96"/><path transform="translate(2400,0)" d="M494,548 L494,440"/><path transform="translate(2400,0)" d="M494,488 C458,532 392,556 306,556 C196,556 122,500 122,420 C122,330 208,304 304,288 C424,268 496,232 496,146 C496,60 420,8 300,8 C206,8 146,36 112,84"/><path transform="translate(2400,0)" d="M112,24 L112,140"/><path transform="translate(3000,0)" d="M186,536 L186,112 C186,46 230,12 306,12 C388,12 450,36 504,70"/><path transform="translate(3000,0)" d="M86,394 L434,394"/><path transform="translate(3600,0)" d="M148,409 L227,409 L227,24"/><path transform="translate(3600,0)" d="M122,24 L424,24"/><path transform="translate(3600,0)" d="M227,292 C282,382 350,413 424,413 C470,413 502,398 522,376"/><path transform="translate(4200,0)" d="M81,409 L127,409 L127,132 C127,52 180,10 262,10 C350,10 430,48 489,108"/><path transform="translate(4200,0)" d="M426,409 L489,409 L489,24 L526,24"/><path transform="translate(4800,0)" d="M512,413 L512,318"/><path transform="translate(4800,0)" d="M512,368 C470,404 402,421 330,421 C212,421 137,332 137,214 C137,88 222,10 334,10 C414,10 482,40 534,88"/><path transform="translate(5400,0)" d="M186,536 L186,112 C186,46 230,12 306,12 C388,12 450,36 504,70"/><path transform="translate(5400,0)" d="M86,394 L434,394"/></g>
<text transform="translate(527.67,933.30) scale(1.0000,1.0000)" font-size="38.6" fill="#000" stroke="#000" stroke-width="0.750" stroke-linejoin="round" style='font-family:"Liberation Serif",serif;font-kerning:none'>is</text>
<text transform="translate(562.92,933.30) scale(1.0000,1.0000)" font-size="38.6" fill="#000" stroke="#000" stroke-width="0.750" stroke-linejoin="round" style='font-family:"Liberation Serif",serif;font-kerning:none'>also</text>
<text transform="translate(636.05,933.30) scale(1.0000,1.0000)" font-size="38.6" fill="#000" stroke="#000" stroke-width="0.750" stroke-linejoin="round" style='font-family:"Liberation Serif",serif;font-kerning:none'>the</text>
<text transform="translate(691.28,933.30) scale(1.0000,1.0000)" font-size="38.6" fill="#000" stroke="#000" stroke-width="0.750" stroke-linejoin="round" style='font-family:"Liberation Serif",serif;font-kerning:none'>only</text>
<text transform="translate(770.99,933.30) scale(1.0000,1.0000)" font-size="38.6" fill="#000" stroke="#000" stroke-width="0.750" stroke-linejoin="round" style='font-family:"Liberation Serif",serif;font-kerning:none'>model</text>
<text transform="translate(877.43,933.30) scale(1.0000,1.0000)" font-size="38.6" fill="#000" stroke="#000" stroke-width="0.750" stroke-linejoin="round" style='font-family:"Liberation Serif",serif;font-kerning:none'>that</text>
<text transform="translate(945.06,933.30) scale(1.0000,1.0000)" font-size="38.6" fill="#000" stroke="#000" stroke-width="0.750" stroke-linejoin="round" style='font-family:"Liberation Serif",serif;font-kerning:none'>adapts</text>
<text transform="translate(1053.68,933.30) scale(1.0000,1.0000)" font-size="38.6" fill="#000" stroke="#000" stroke-width="0.750" stroke-linejoin="round" style='font-family:"Liberation Serif",serif;font-kerning:none'>to</text>
<text transform="translate(1093.28,933.30) scale(1.0000,1.0000)" font-size="38.6" fill="#000" stroke="#000" stroke-width="0.750" stroke-linejoin="round" style='font-family:"Liberation Serif",serif;font-kerning:none'>various</text>
<text transform="translate(1215.81,933.30) scale(1.0000,1.0000)" font-size="38.6" fill="#000" stroke="#000" stroke-width="0.750" stroke-linejoin="round" style='font-family:"Liberation Serif",serif;font-kerning:none'>resolutions</text>
<text transform="translate(1394.23,933.30) scale(1.0000,1.0000)" font-size="38.6" fill="#000" stroke="#000" stroke-width="0.750" stroke-linejoin="round" style='font-family:"Liberation Serif",serif;font-kerning:none'>seamlessly,</text>
<text transform="translate(1581.17,933.30) scale(1.0000,1.0000)" font-size="38.6" fill="#000" stroke="#000" stroke-width="0.750" stroke-linejoin="round" style='font-family:"Liberation Serif",serif;font-kerning:none'>without</text>
<text transform="translate(1706.13,933.30) scale(1.0000,1.0000)" font-size="38.6" fill="#000" stroke="#000" stroke-width="0.750" stroke-linejoin="round" style='font-family:"Liberation Serif",serif;font-kerning:none'>any</text>
<text transform="translate(1772.06,933.30) scale(1.0000,1.0000)" font-size="38.6" fill="#000" stroke="#000" stroke-width="0.750" stroke-linejoin="round" style='font-family:"Liberation Serif",serif;font-kerning:none'>retraining</text>
<text transform="translate(29.56,979.70) scale(1.0000,1.0000)" font-size="38.6" fill="#000" stroke="#000" stroke-width="0.750" stroke-linejoin="round" style='font-family:"Liberation Serif",serif;font-kerning:none'>or</text>
<text transform="translate(75.27,979.70) scale(1.0000,1.0000)" font-size="38.6" fill="#000" stroke="#000" stroke-width="0.750" stroke-linejoin="round" style='font-family:"Liberation Serif",serif;font-kerning:none'>post-hoc</text>
<text transform="translate(220.72,979.70) scale(1.0000,1.0000)" font-size="38.6" fill="#000" stroke="#000" stroke-width="0.750" stroke-linejoin="round" style='font-family:"Liberation Serif",serif;font-kerning:none'>parameter</text>
<text transform="translate(386.06,979.70) scale(1.0000,1.0000)" font-size="38.6" fill="#000" stroke="#000" stroke-width="0.750" stroke-linejoin="round" style='font-family:"Liberation Serif",serif;font-kerning:none'>creation.</text>
<text transform="translate(538.70,979.70) scale(1.0000,1.0000)" font-size="38.6" fill="#000" stroke="#000" stroke-width="0.750" stroke-linejoin="round" style='font-family:"Liberation Serif",serif;font-kerning:none'>(Left)</text>
<text transform="translate(640.37,979.70) scale(1.0000,1.0000)" font-size="38.6" fill="#000" stroke="#000" stroke-width="0.750" stroke-linejoin="round" style='font-family:"Liberation Serif",serif;font-kerning:none'>In</text>
<text transform="translate(684.49,979.70) scale(1.0000,1.0000)" font-size="38.6" fill="#000" stroke="#000" stroke-width="0.750" stroke-linejoin="round" style='font-family:"Liberation Serif",serif;font-kerning:none'>both</text>
<text transform="translate(765.06,979.70) scale(1.0000,1.0000)" font-size="38.6" fill="#000" stroke="#000" stroke-width="0.750" stroke-linejoin="round" style='font-family:"Liberation Serif",serif;font-kerning:none'>Donut</text>
<text transform="translate(873.69,979.70) scale(1.0000,1.0000)" font-size="38.6" fill="#000" stroke="#000" stroke-width="0.750" stroke-linejoin="round" style='font-family:"Liberation Serif",serif;font-kerning:none'>and</text>
<g transform="translate(941.31,979.40) scale(0.03860,-0.03860)" fill="none" stroke="#000" stroke-width="50" stroke-linecap="round" stroke-linejoin="round"><path transform="translate(0,0)" d="M47,526 L322,526 C410,526 459,472 459,384 C459,296 410,240 322,240 L138,240"/><path transform="translate(0,0)" d="M138,526 L138,24"/><path transform="translate(0,0)" d="M47,24 L301,24"/><path transform="translate(600,0)" d="M165,409 L300,409 L300,24"/><path transform="translate(600,0)" d="M117,24 L499,24"/><path transform="translate(600,0)" d="M300,540 L300,592"/><path transform="translate(1200,0)" d="M105,409 L232,409"/><path transform="translate(1200,0)" d="M392,409 L516,409"/><path transform="translate(1200,0)" d="M82,24 L232,24"/><path transform="translate(1200,0)" d="M392,24 L532,24"/><path transform="translate(1200,0)" d="M170,409 L458,24"/><path transform="translate(1200,0)" d="M450,409 L160,24"/><path transform="translate(1800,0)" d="M108,452 C112,548 196,594 290,594 C388,594 452,536 452,452 C452,352 350,300 110,30 L110,24 L474,24 L474,96"/><path transform="translate(2400,0)" d="M494,548 L494,440"/><path transform="translate(2400,0)" d="M494,488 C458,532 392,556 306,556 C196,556 122,500 122,420 C122,330 208,304 304,288 C424,268 496,232 496,146 C496,60 420,8 300,8 C206,8 146,36 112,84"/><path transform="translate(2400,0)" d="M112,24 L112,140"/><path transform="translate(3000,0)" d="M186,536 L186,112 C186,46 230,12 306,12 C388,12 450,36 504,70"/><path transform="translate(3000,0)" d="M86,394 L434,394"/><path transform="translate(3600,0)" d="M148,409 L227,409 L227,24"/><path transform="translate(3600,0)" d="M122,24 L424,24"/><path transform="translate(3600,0)" d="M227,292 C282,382 350,413 424,413 C470,413 502,398 522,376"/><path transform="translate(4200,0)" d="M81,409 L127,409 L127,132 C127,52 180,10 262,10 C350,10 430,48 489,108"/><path transform="translate(4200,0)" d="M426,409 L489,409 L489,24 L526,24"/><path transform="translate(4800,0)" d="M512,413 L512,318"/><path transform="translate(4800,0)" d="M512,368 C470,404 402,421 330,421 C212,421 137,332 137,214 C137,88 222,10 334,10 C414,10 482,40 534,88"/><path transform="translate(5400,0)" d="M186,536 L186,112 C186,46 230,12 306,12 C388,12 450,36 504,70"/><path transform="translate(5400,0)" d="M86,394 L434,394"/></g>
<text transform="translate(1174.68,979.70) scale(1.0000,1.0000)" font-size="38.6" fill="#000" stroke="#000" stroke-width="0.750" stroke-linejoin="round" style='font-family:"Liberation Serif",serif;font-kerning:none'>,</text>
<text transform="translate(1197.80,979.70) scale(1.0000,1.0000)" font-size="38.6" fill="#000" stroke="#000" stroke-width="0.750" stroke-linejoin="round" style='font-family:"Liberation Serif",serif;font-kerning:none'>we</text>
<text transform="translate(1252.34,979.70) scale(1.0000,1.0000)" font-size="38.6" fill="#000" stroke="#000" stroke-width="0.750" stroke-linejoin="round" style='font-family:"Liberation Serif",serif;font-kerning:none'>show</text>
<text transform="translate(1344.55,979.70) scale(1.0000,1.0000)" font-size="38.6" fill="#000" stroke="#000" stroke-width="0.750" stroke-linejoin="round" style='font-family:"Liberation Serif",serif;font-kerning:none'>clear</text>
<text transform="translate(1431.45,979.70) scale(1.0000,1.0000)" font-size="38.6" fill="#000" stroke="#000" stroke-width="0.750" stroke-linejoin="round" style='font-family:"Liberation Serif",serif;font-kerning:none'>benefits</text>
<text transform="translate(1564.54,979.70) scale(1.0000,1.0000)" font-size="38.6" fill="#000" stroke="#000" stroke-width="0.750" stroke-linejoin="round" style='font-family:"Liberation Serif",serif;font-kerning:none'>from</text>
<text transform="translate(1651.79,979.70) scale(1.0000,1.0000)" font-size="38.6" fill="#000" stroke="#000" stroke-width="0.750" stroke-linejoin="round" style='font-family:"Liberation Serif",serif;font-kerning:none'>use</text>
<text transform="translate(1714.33,979.70) scale(1.0000,1.0000)" font-size="38.6" fill="#000" stroke="#000" stroke-width="0.750" stroke-linejoin="round" style='font-family:"Liberation Serif",serif;font-kerning:none'>larger</text>
<text transform="translate(1815.57,979.70) scale(1.0000,1.0000)" font-size="38.6" fill="#000" stroke="#000" stroke-width="0.750" stroke-linejoin="round" style='font-family:"Liberation Serif",serif;font-kerning:none'>resolu-</text>
<text transform="translate(31.77,1026.10) scale(1.0000,1.0000)" font-size="38.6" fill="#000" stroke="#000" stroke-width="0.750" stroke-linejoin="round" style='font-family:"Liberation Serif",serif;font-kerning:none'>tions.</text>
<text transform="translate(128.60,1026.10) scale(1.0000,1.0000)" font-size="38.6" fill="#000" stroke="#000" stroke-width="0.750" stroke-linejoin="round" style='font-family:"Liberation Serif",serif;font-kerning:none'>(Right)</text>
<text transform="translate(250.68,1026.10) scale(1.0000,1.0000)" font-size="38.6" fill="#000" stroke="#000" stroke-width="0.750" stroke-linejoin="round" style='font-family:"Liberation Serif",serif;font-kerning:none'>Inference</text>
<text transform="translate(405.60,1026.10) scale(1.0000,1.0000)" font-size="38.6" fill="#000" stroke="#000" stroke-width="0.750" stroke-linejoin="round" style='font-family:"Liberation Serif",serif;font-kerning:none'>speed</text>
<text transform="translate(502.53,1026.10) scale(1.0000,1.0000)" font-size="38.6" fill="#000" stroke="#000" stroke-width="0.750" stroke-linejoin="round" style='font-family:"Liberation Serif",serif;font-kerning:none'>measured</text>
<text transform="translate(660.98,1026.10) scale(1.0000,1.0000)" font-size="38.6" fill="#000" stroke="#000" stroke-width="0.750" stroke-linejoin="round" style='font-family:"Liberation Serif",serif;font-kerning:none'>by</text>
<text transform="translate(709.30,1026.10) scale(1.0000,1.0000)" font-size="38.6" fill="#000" stroke="#000" stroke-width="0.750" stroke-linejoin="round" style='font-family:"Liberation Serif",serif;font-kerning:none'>auto-regressive</text>
<text transform="translate(952.68,1026.10) scale(1.0000,1.0000)" font-size="38.6" fill="#000" stroke="#000" stroke-width="0.750" stroke-linejoin="round" style='font-family:"Liberation Serif",serif;font-kerning:none'>decoding</text>
<text transform="translate(1104.58,1026.10) scale(1.0000,1.0000)" font-size="38.6" fill="#000" stroke="#000" stroke-width="0.750" stroke-linejoin="round" style='font-family:"Liberation Serif",serif;font-kerning:none'>(max</text>
<text transform="translate(1193.93,1026.10) scale(1.0000,1.0000)" font-size="38.6" fill="#000" stroke="#000" stroke-width="0.750" stroke-linejoin="round" style='font-family:"Liberation Serif",serif;font-kerning:none'>decoding</text>
<text transform="translate(1345.73,1026.10) scale(1.0000,1.0000)" font-size="38.6" fill="#000" stroke="#000" stroke-width="0.750" stroke-linejoin="round" style='font-family:"Liberation Serif",serif;font-kerning:none'>length</text>
<text transform="translate(1451.54,1026.10) scale(1.0000,1.0000)" font-size="38.6" fill="#000" stroke="#000" stroke-width="0.750" stroke-linejoin="round" style='font-family:"Liberation Serif",serif;font-kerning:none'>of</text>
<text transform="translate(1493.04,1026.10) scale(1.0000,1.0000)" font-size="38.6" fill="#000" stroke="#000" stroke-width="0.750" stroke-linejoin="round" style='font-family:"Liberation Serif",serif;font-kerning:none'>32</text>
<text transform="translate(1541.64,1026.10) scale(1.0000,1.0000)" font-size="38.6" fill="#000" stroke="#000" stroke-width="0.750" stroke-linejoin="round" style='font-family:"Liberation Serif",serif;font-kerning:none'>tokens)</text>
<text transform="translate(1663.76,1026.10) scale(1.0000,1.0000)" font-size="38.6" fill="#000" stroke="#000" stroke-width="0.750" stroke-linejoin="round" style='font-family:"Liberation Serif",serif;font-kerning:none'>on</text>
<text transform="translate(1713.40,1026.10) scale(1.0000,1.0000)" font-size="38.6" fill="#000" stroke="#000" stroke-width="0.750" stroke-linejoin="round" style='font-family:"Liberation Serif",serif;font-kerning:none'>the</text>
<text transform="translate(1769.56,1026.10) scale(1.0000,1.0000)" font-size="38.6" fill="#000" stroke="#000" stroke-width="0.750" stroke-linejoin="round" style='font-family:"Liberation Serif",serif;font-kerning:none'>validation</text>
<text transform="translate(30.98,1072.50) scale(1.0000,1.0000)" font-size="38.6" fill="#000" stroke="#000" stroke-width="0.750" stroke-linejoin="round" style='font-family:"Liberation Serif",serif;font-kerning:none'>set</text>
<text transform="translate(83.09,1072.50) scale(1.0000,1.0000)" font-size="38.6" fill="#000" stroke="#000" stroke-width="0.750" stroke-linejoin="round" style='font-family:"Liberation Serif",serif;font-kerning:none'>of</text>
<text transform="translate(126.47,1072.50) scale(1.0000,1.0000)" font-size="38.6" fill="#000" stroke="#000" stroke-width="0.750" stroke-linejoin="round" style='font-family:"Liberation Serif",serif;font-kerning:none'>DocVQA</text>
<text transform="translate(285.04,1072.50) scale(1.0000,1.0000)" font-size="38.6" fill="#000" stroke="#000" stroke-width="0.750" stroke-linejoin="round" style='font-family:"Liberation Serif",serif;font-kerning:none'>using</text>
<text transform="translate(377.87,1072.50) scale(1.0000,1.0000)" font-size="38.6" fill="#000" stroke="#000" stroke-width="0.750" stroke-linejoin="round" style='font-family:"Liberation Serif",serif;font-kerning:none'>a</text>
<text transform="translate(405.31,1072.50) scale(1.0000,1.0000)" font-size="38.6" fill="#000" stroke="#000" stroke-width="0.750" stroke-linejoin="round" style='font-family:"Liberation Serif",serif;font-kerning:none'>v3-8</text>
<text transform="translate(485.46,1072.50) scale(1.0000,1.0000)" font-size="38.6" fill="#000" stroke="#000" stroke-width="0.750" stroke-linejoin="round" style='font-family:"Liberation Serif",serif;font-kerning:none'>Cloud</text>
<text transform="translate(590.59,1072.50) scale(1.0000,1.0000)" font-size="38.6" fill="#000" stroke="#000" stroke-width="0.750" stroke-linejoin="round" style='font-family:"Liberation Serif",serif;font-kerning:none'>TPU.</text></g></svg>
</body></html>
